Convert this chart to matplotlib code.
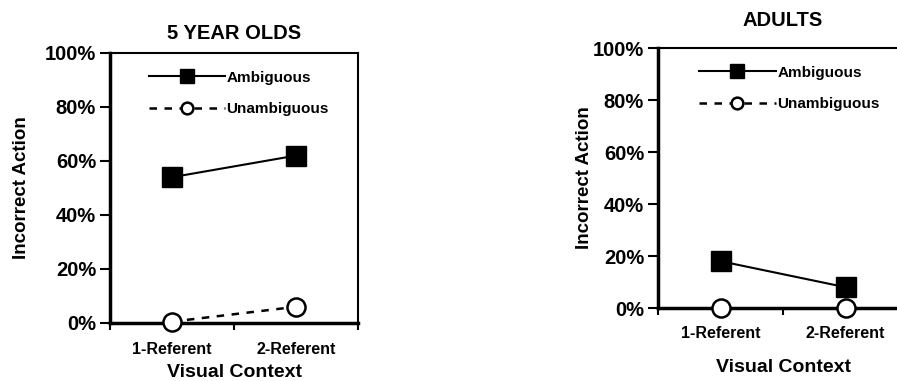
import matplotlib
matplotlib.use("Agg")
import matplotlib.pyplot as plt
from matplotlib.ticker import PercentFormatter

plt.rcParams['font.family'] = ['Liberation Sans', 'DejaVu Sans']
plt.rcParams['font.weight'] = 'bold'

categories = ["1-Referent", "2-Referent"]
kids_ambiguous = [0.54, 0.62]
kids_unambiguous = [0.005, 0.06]
adults_ambiguous = [0.18, 0.08]
adults_unambiguous = [0.0, 0.0]
y_ticks = [0, 0.2, 0.4, 0.6, 0.8, 1.0]
titles = ["5 YEAR OLDS", "ADULTS"]

fig = plt.figure(figsize=(8.97, 3.81), dpi=100)
ax1 = fig.add_axes([110/897, 1-323/381, 248/897, 270/381])
ax2 = fig.add_axes([658/897, 1-308/381, 250/897, 260/381])

xpos = [0.5, 1.5]

def style(ax, amb, unamb, title, title_pad, xtick_pad, xlabel_pad, ylabel_pad, leg_anchor):
    ax.plot(xpos, amb, '-', color='black', lw=1.5, marker='s', ms=15,
            mfc='black', mec='black', label='Ambiguous', clip_on=False, zorder=3)
    ax.plot(xpos, unamb, '--', color='black', lw=1.8, dashes=(3, 3), marker='o', ms=13,
            mfc='white', mec='black', mew=1.8, label='Unambiguous', clip_on=False, zorder=4)
    ax.set_xlim(0, 2)
    ax.set_ylim(0, 1)
    ax.set_yticks(y_ticks)
    ax.yaxis.set_major_formatter(PercentFormatter(1.0, decimals=0))
    ax.set_xticks([0, 1, 2])
    ax.set_xticklabels([])
    ax.set_xticks(xpos, minor=True)
    ax.set_xticklabels(categories, minor=True, fontsize=11.5, fontweight='bold')
    ax.tick_params(axis='x', which='minor', length=0, pad=xtick_pad)
    ax.tick_params(axis='x', which='major', length=5, width=1.5, direction='out')
    ax.tick_params(axis='y', length=7, width=1.5, direction='out', labelsize=14.5, pad=3)
    for lab in ax.get_yticklabels():
        lab.set_fontweight('bold')
    for sp in ax.spines.values():
        sp.set_linewidth(1.5)
    ax.spines['left'].set_linewidth(2.5)
    ax.spines['bottom'].set_linewidth(2.5)
    ax.set_title(title, fontsize=14.5, fontweight='bold', pad=title_pad)
    ax.set_ylabel('Incorrect Action', fontsize=13.5, fontweight='bold', labelpad=ylabel_pad)
    ax.set_xlabel('Visual Context', fontsize=14, fontweight='bold', labelpad=xlabel_pad)
    leg = ax.legend(loc='upper left', bbox_to_anchor=leg_anchor, frameon=False,
                    handlelength=5.0, handletextpad=0.1, markerscale=0.65,
                    labelspacing=1.15, prop={'size': 11, 'weight': 'bold'})
    return leg

style(ax1, kids_ambiguous, kids_unambiguous, titles[0], 10, 14, 4.5, 10.5, (0.1, 0.985))
style(ax2, adults_ambiguous, adults_unambiguous, titles[1], 16, 13, 13, 0, (0.11, 0.985))

fig.savefig("out.png", dpi=100)
